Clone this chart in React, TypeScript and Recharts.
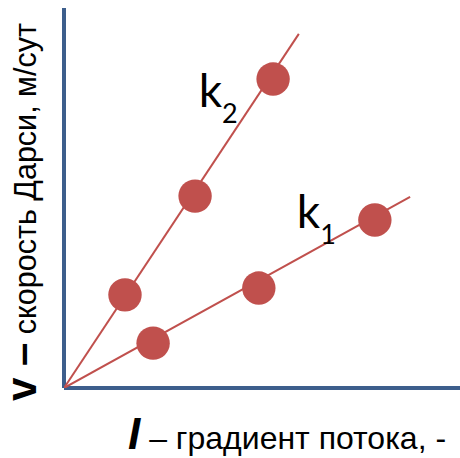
import React from "react";
import { ScatterChart, Scatter, XAxis, YAxis, ReferenceDot } from "recharts";

// Points (gradient I, Darcy velocity v) for the two permeabilities
const k2Points = [
  { x: 1.54, y: 2.45 },
  { x: 3.31, y: 5.05 },
  { x: 5.28, y: 8.13 },
];
const k1Points = [
  { x: 2.25, y: 1.18 },
  { x: 4.92, y: 2.63 },
  { x: 7.85, y: 4.42 },
];
// Fitted straight lines through the origin
const k2Line = [
  { x: 0, y: 0 },
  { x: 5.93, y: 9.32 },
];
const k1Line = [
  { x: 0, y: 0 },
  { x: 8.74, y: 5.03 },
];
const xDomain = [0, 10];
const yDomain = [0, 10];

const RED = "#C0504D";
const AXIS = "#3D5E8C";

const K2_POS = { x: 3.4, y: 7.39 };
const K1_POS = { x: 5.88, y: 4.21 };

const Dot = (props: any) => <circle cx={props.cx} cy={props.cy} r={16.7} fill={RED} />;
const NoDot = () => <g />;

const kLabel = (sub: string) => (props: any) => (
  <text x={props.cx} y={props.cy} fill="#000" fontFamily="Lato, 'Noto Sans', sans-serif">
    <tspan fontSize={46}>k</tspan>
    <tspan fontSize={27} dy={16}>{sub}</tspan>
  </text>
);

const XTitle = () => (
  <text x={128} y={449} fill="#000" fontFamily="'Liberation Sans', Arial, sans-serif">
    <tspan fontSize={44} fontWeight="bold" fontStyle="italic">I</tspan>
    <tspan fontSize={32}> – градиент потока, -</tspan>
  </text>
);

const YTitle = () => (
  <text
    x={36}
    y={401}
    transform="rotate(-90 36 401)"
    fill="#000"
    fontFamily="'Liberation Sans', Arial, sans-serif"
  >
    <tspan fontSize={42} fontWeight="bold">v –</tspan>
    <tspan fontSize={30.5}> скорость Дарси, м/сут</tspan>
  </text>
);

export default function App() {
  return (
    <div style={{ position: "absolute", left: 0, top: 0, width: 460, height: 458, background: "#fff" }}>
      <ScatterChart width={460} height={458} margin={{ top: 8, right: 0, left: 63, bottom: 69 }}>
        <XAxis
          type="number"
          dataKey="x"
          domain={xDomain}
          allowDataOverflow
          tick={false}
          tickLine={false}
          height={1}
          axisLine={{ stroke: AXIS, strokeWidth: 4 }}
          label={<XTitle />}
        />
        <YAxis
          type="number"
          dataKey="y"
          domain={yDomain}
          allowDataOverflow
          tick={false}
          tickLine={false}
          width={1}
          axisLine={{ stroke: AXIS, strokeWidth: 4 }}
          label={<YTitle />}
        />
        <Scatter data={k2Line} line={{ stroke: RED, strokeWidth: 2 }} shape={NoDot} isAnimationActive={false} />
        <Scatter data={k1Line} line={{ stroke: RED, strokeWidth: 2 }} shape={NoDot} isAnimationActive={false} />
        <Scatter data={k2Points} shape={Dot} isAnimationActive={false} />
        <Scatter data={k1Points} shape={Dot} isAnimationActive={false} />
        <ReferenceDot x={K2_POS.x} y={K2_POS.y} r={0} shape={kLabel("2")} ifOverflow="visible" />
        <ReferenceDot x={K1_POS.x} y={K1_POS.y} r={0} shape={kLabel("1")} ifOverflow="visible" />
      </ScatterChart>
    </div>
  );
}
